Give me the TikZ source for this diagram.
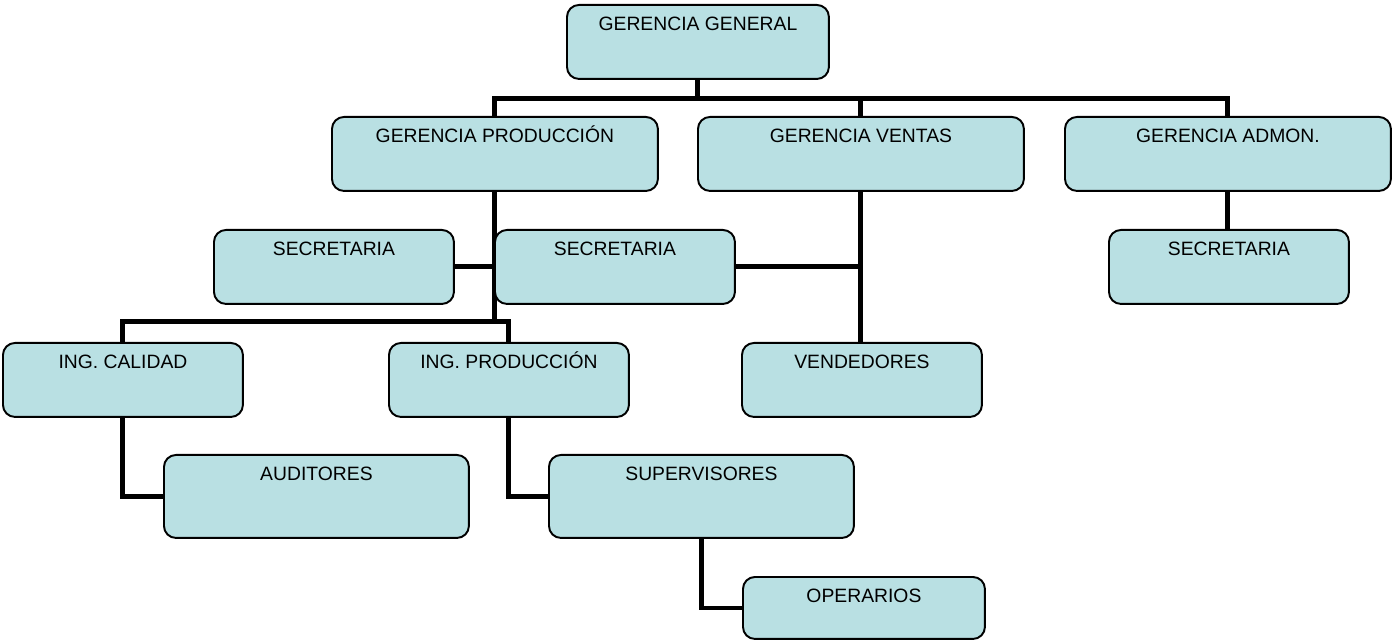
\documentclass[tikz,border=0pt]{standalone}
\usepackage{fontspec}
\setmainfont{Liberation Sans}
\usepackage{tikz}
\usetikzlibrary{positioning, backgrounds}
\definecolor{boxfill}{RGB}{185,224,227}

\begin{document}
\begin{tikzpicture}[x=0.02cm, y=-0.02cm,
                    unit/.style = {draw, line width=1.1pt, rounded corners=0.24cm, fill=boxfill,
                                   anchor=north west, inner sep=0pt, minimum width=4.8cm,
                                   text height=0.52cm, text depth=0.96cm,
                                   font=\fontsize{11}{13}\selectfont},
                    wide/.style = {minimum width=6.52cm},
                    tall/.style = {minimum width=6.1cm, text depth=1.14cm},
                    low/.style = {minimum width=4.84cm, text depth=0.72cm},
                    link/.style = {line width=2.8pt}]
    \useasboundingbox (0,0) rectangle (1392,641);

    \node[unit, minimum width=5.24cm] (gg) at (566,4) {GERENCIA GENERAL};
    \node[unit, wide] (gp) at (331,116) {GERENCIA PRODUCCIÓN};
    \node[unit, wide] (gv) at (697,116) {GERENCIA VENTAS};
    \node[unit, wide] (ga) at (1064,116) {GERENCIA ADMON.};

    \node[unit] (secl) at (213,229) {SECRETARIA};
    \node[unit] (secm) at (494,229) {SECRETARIA};
    \node[unit] (secr) at (1108,229) {SECRETARIA};

    \node[unit] (calidad) at (2,342) {ING. CALIDAD};
    \node[unit] (ingprod) at (388,342) {ING. PRODUCCIÓN};
    \node[unit] (vend) at (741,342) {VENDEDORES};

    \node[unit, tall] (aud) at (163,454) {AUDITORES};
    \node[unit, tall] (sup) at (548,454) {SUPERVISORES};
    \node[unit, low] (oper) at (742,576) {OPERARIOS};

    \begin{scope}[on background layer]
        \draw[link] (gg.south) -- ++(0,19) -| (gp.north);
        \draw[link] (gg.south) -- ++(0,19) -| (gv.north);
        \draw[link] (gg.south) -- ++(0,19) -| (ga.north);

        \draw[link] (gp.south) |- (secl.east);
        \draw[link] (gp.south) -- ++(0,130) -| (calidad.north);
        \draw[link] (gp.south) -- ++(0,130) -| (ingprod.north);
        \draw[link] (gv.south) |- (secm.east);
        \draw[link] (gv.south) -- (gv.south |- vend.north);
        \draw[link] (ga.south) -- (ga.south |- secr.north);

        \draw[link] (calidad.south) |- (aud.west);
        \draw[link] (ingprod.south) |- (sup.west);
        \draw[link] (sup.south) |- (oper.west);
    \end{scope}
\end{tikzpicture}
\end{document}
